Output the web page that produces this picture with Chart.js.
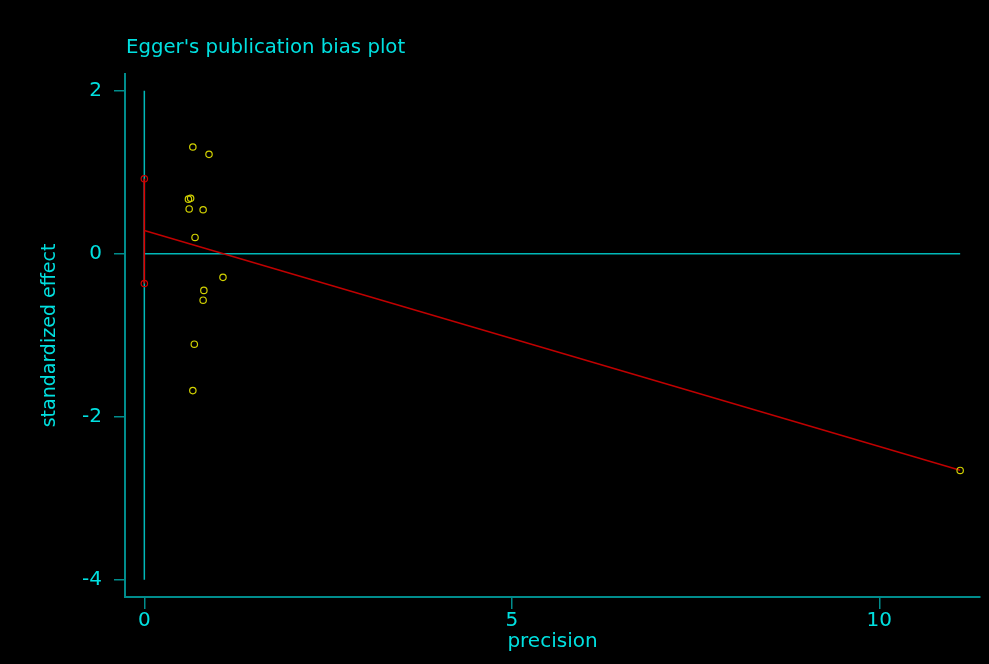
<!DOCTYPE html>
<html>
<head>
<meta charset="utf-8">
<title>Egger's publication bias plot</title>
<script src="https://cdn.jsdelivr.net/npm/chart.js@4.4.1/dist/chart.umd.min.js"></script>
<style>
  html, body { margin: 0; padding: 0; background: #000; }
  #wrap { width: 989px; height: 664px; }
</style>
</head>
<body>
<div id="wrap"><canvas id="c" width="989" height="664"></canvas></div>
<script>
// Study precision (1/SE) and standardized effect (effect/SE)
const precision = [0.66, 0.88, 0.60, 0.63, 0.61, 0.80, 0.69, 1.07, 0.81, 0.80, 0.68, 0.66, 11.10];
const effect    = [1.31, 1.22, 0.67, 0.68, 0.55, 0.54, 0.20, -0.29, -0.45, -0.57, -1.11, -1.68, -2.66];

// Egger regression line (precision 0 to max) and intercept confidence interval
const fitX = [0, 11.10];
const fitY = [0.286, -2.657];
const ciLow = -0.365;
const ciHigh = 0.92;

// Axis ticks
const xTicks = [0, 5, 10];
const yTicks = [2, 0, -2, -4];

const CYAN = '#00e0e0';
const TEAL = '#008c8c';
const REF = '#00b8b8';
const FONT = "'DejaVu Sans', Verdana, sans-serif";

const titlePlugin = {
  id: 'plotTitle',
  afterDraw(chart) {
    const ctx = chart.ctx;
    ctx.save();
    ctx.fillStyle = CYAN;
    ctx.font = "19.7px " + FONT;
    ctx.textBaseline = 'alphabetic';
    ctx.textAlign = 'left';
    ctx.fillText("Egger's publication bias plot", chart.chartArea.left + 1, 53);
    ctx.restore();
  }
};

const bgPlugin = {
  id: 'bg',
  beforeDraw(chart) {
    const ctx = chart.ctx;
    ctx.save();
    ctx.fillStyle = '#000';
    ctx.fillRect(0, 0, chart.width, chart.height);
    ctx.restore();
  }
};

const xMaxData = Math.max(...precision);

new Chart(document.getElementById('c'), {
  type: 'scatter',
  data: {
    datasets: [
      {
        label: 'studies',
        data: precision.map((p, i) => ({ x: p, y: effect[i] })),
        pointStyle: 'circle',
        pointRadius: 3.2,
        pointBorderWidth: 1.2,
        pointBorderColor: '#d2d200',
        pointBackgroundColor: 'rgba(0,0,0,0)',
        showLine: false,
        order: 0
      },
      {
        label: 'fit',
        data: fitX.map((p, i) => ({ x: p, y: fitY[i] })),
        showLine: true,
        borderColor: '#c00000',
        borderWidth: 1.5,
        pointRadius: 0,
        order: 1
      },
      {
        label: 'ci',
        data: [{ x: 0, y: ciHigh }, { x: 0, y: ciLow }],
        showLine: true,
        borderColor: '#e00000',
        borderWidth: 1.5,
        pointStyle: 'circle',
        pointRadius: 3.2,
        pointBorderWidth: 1.2,
        pointBorderColor: '#d00000',
        pointBackgroundColor: 'rgba(0,0,0,0)',
        order: 2
      },
      {
        label: 'vref',
        data: [{ x: 0, y: yTicks[0] }, { x: 0, y: yTicks[yTicks.length - 1] }],
        showLine: true,
        borderColor: REF,
        borderWidth: 1.5,
        pointRadius: 0,
        order: 3
      },
      {
        label: 'href',
        data: [{ x: 0, y: 0 }, { x: xMaxData, y: 0 }],
        showLine: true,
        borderColor: REF,
        borderWidth: 1.5,
        pointRadius: 0,
        order: 3
      }
    ]
  },
  options: {
    responsive: false,
    devicePixelRatio: 1,
    animation: false,
    events: [],
    layout: { padding: { top: 74, right: 9, left: 0, bottom: 0 } },
    plugins: {
      legend: { display: false },
      title: { display: false },
      tooltip: { enabled: false }
    },
    scales: {
      x: {
        type: 'linear',
        min: -0.263,
        max: 11.37,
        afterBuildTicks(scale) { scale.ticks = xTicks.map(v => ({ value: v })); },
        afterFit(scale) { scale.height = 67; },
        border: { display: true, color: TEAL, width: 2 },
        grid: { drawOnChartArea: false, drawTicks: true, tickLength: 12, tickColor: TEAL, lineWidth: 1.5 },
        ticks: { color: CYAN, font: { family: FONT, size: 20 }, padding: 0, maxRotation: 0 },
        title: { display: true, text: 'precision', color: CYAN, font: { family: FONT, size: 20 }, padding: { top: 0, bottom: 10 } }
      },
      y: {
        type: 'linear',
        min: -4.213,
        max: 2.206,
        afterBuildTicks(scale) { scale.ticks = yTicks.map(v => ({ value: v })); },
        afterFit(scale) { scale.width = 125; },
        border: { display: true, color: TEAL, width: 2 },
        grid: { drawOnChartArea: false, drawTicks: true, tickLength: 11, tickColor: TEAL, lineWidth: 1.5 },
        ticks: { color: CYAN, font: { family: FONT, size: 20 }, padding: 12 },
        title: { display: true, text: 'standardized effect', color: CYAN, font: { family: FONT, size: 19 }, padding: { top: 38.5, bottom: 0 } }
      }
    }
  },
  plugins: [bgPlugin, titlePlugin]
});
</script>
</body>
</html>
